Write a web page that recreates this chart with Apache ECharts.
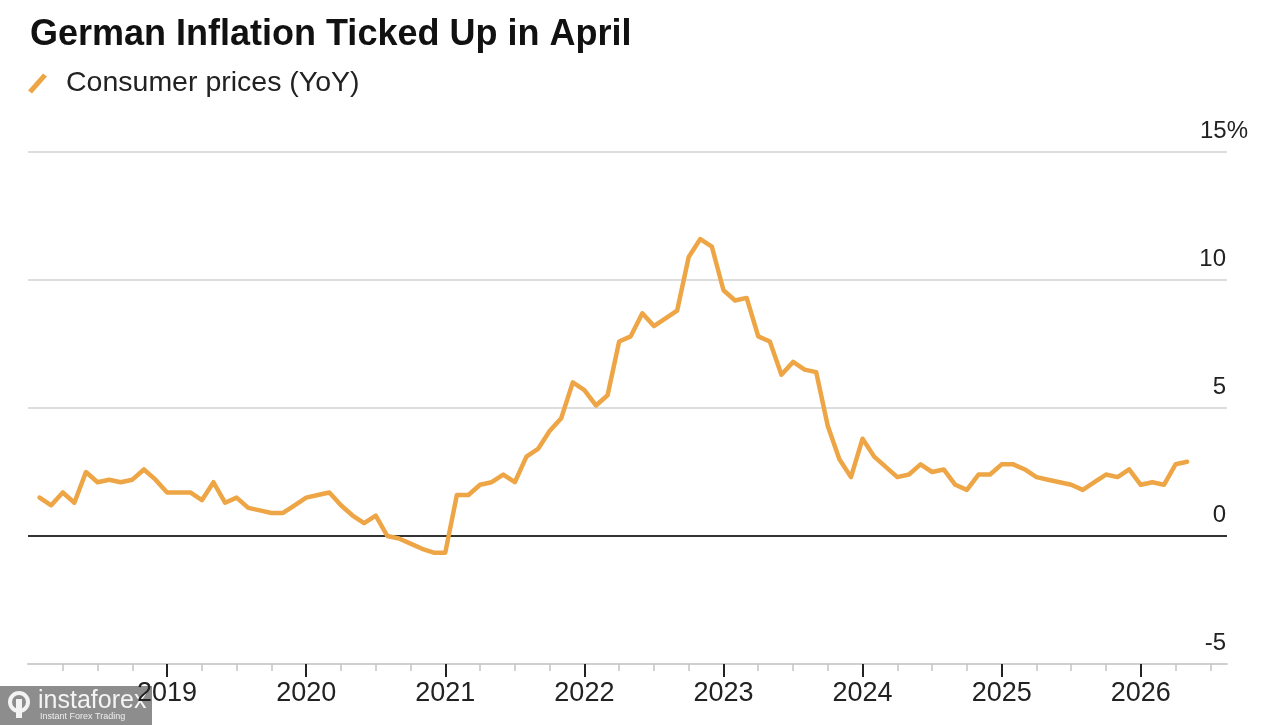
<!DOCTYPE html>
<html>
<head>
<meta charset="utf-8">
<script src="https://cdn.jsdelivr.net/npm/echarts@6/dist/echarts.min.js"></script>
<style>
html,body{margin:0;padding:0;background:#fff;}
#chart{width:1280px;height:725px;}
</style>
</head>
<body>
<div id="chart"></div>
<script>
// ---- Data (Germany consumer prices, YoY %, monthly Jan 2018 – Apr 2026) ----
const startYear = 2018;
const yoy2018 = [1.5, 1.2, 1.7, 1.3, 2.5, 2.1, 2.2, 2.1, 2.2, 2.6, 2.2, 1.7];
const yoy2019 = [1.7, 1.7, 1.4, 2.1, 1.3, 1.5, 1.1, 1.0, 0.9, 0.9, 1.2, 1.5];
const yoy2020 = [1.6, 1.7, 1.2, 0.8, 0.5, 0.8, 0.0, -0.1, -0.3, -0.5, -0.65, -0.65];
const yoy2021 = [1.6, 1.6, 2.0, 2.1, 2.4, 2.1, 3.1, 3.4, 4.1, 4.6, 6.0, 5.7];
const yoy2022 = [5.1, 5.5, 7.6, 7.8, 8.7, 8.2, 8.5, 8.8, 10.9, 11.6, 11.3, 9.6];
const yoy2023 = [9.2, 9.3, 7.8, 7.6, 6.3, 6.8, 6.5, 6.4, 4.3, 3.0, 2.3, 3.8];
const yoy2024 = [3.1, 2.7, 2.3, 2.4, 2.8, 2.5, 2.6, 2.0, 1.8, 2.4, 2.4, 2.8];
const yoy2025 = [2.8, 2.6, 2.3, 2.2, 2.1, 2.0, 1.8, 2.1, 2.4, 2.3, 2.6, 2.0];
const yoy2026 = [2.1, 2.0, 2.8, 2.9];
const yearTicks = [2019, 2020, 2021, 2022, 2023, 2024, 2025, 2026];
const yTicks = [-5, 0, 5, 10, 15];

const allValues = [].concat(yoy2018, yoy2019, yoy2020, yoy2021, yoy2022, yoy2023, yoy2024, yoy2025, yoy2026);
// each monthly value is placed at the end of its month on a decimal-year axis
const seriesData = allValues.map((v, i) => [startYear + (i + 1) / 12, v]);
const quarterTicks = [];
for (let y = 2018; y <= 2026; y++) {
  [0.25, 0.5, 0.75].forEach(q => { if (y + q < 2026.6) quarterTicks.push(y + q); });
}

const FONT = '"Liberation Sans", Arial, Helvetica, sans-serif';
const chart = echarts.init(document.getElementById('chart'));
chart.setOption({
  animation: false,
  backgroundColor: '#ffffff',
  title: {
    text: 'German Inflation Ticked Up in April',
    left: 25, top: 12,
    textStyle: { fontFamily: FONT, fontSize: 36, fontWeight: 'bold', color: '#111' }
  },
  legend: {
    left: 23, top: 64,
    itemWidth: 19, itemHeight: 20,
    icon: 'path://M0,17 L15,0 L19,3 L4,20 Z',
    data: [{ name: 'Consumer prices (YoY)', itemStyle: { color: '#EDA545' } }],
    textStyle: { fontFamily: FONT, fontSize: 28.5, color: '#222', padding: [0, 0, 0, 14] }
  },
  grid: { left: 28, right: 53, top: 152, bottom: 61 },
  xAxis: [
    {
      type: 'value', min: 2018, max: 2026.62,
      axisLine: { show: true, onZero: false, lineStyle: { color: '#cfcfcf', width: 2 } },
      axisTick: { show: true, customValues: yearTicks, length: 13, lineStyle: { color: '#222', width: 2 } },
      axisLabel: {
        customValues: yearTicks, margin: 16,
        fontFamily: FONT, fontSize: 27, color: '#222',
        formatter: v => String(Math.round(v))
      },
      splitLine: { show: false }
    },
    {
      type: 'value', min: 2018, max: 2026.62, position: 'bottom',
      axisLine: { show: false, onZero: false },
      axisTick: { show: true, customValues: quarterTicks, length: 7, lineStyle: { color: '#c4c4c4', width: 1.5 } },
      axisLabel: { show: false },
      splitLine: { show: false }
    }
  ],
  yAxis: {
    type: 'value', position: 'right', min: -5, max: 15, interval: 5,
    axisLine: { show: false }, axisTick: { show: false },
    splitLine: { lineStyle: { color: '#d2d2d2', width: 1.5 } },
    axisLabel: {
      align: 'right', verticalAlign: 'bottom', margin: 21,
      fontFamily: FONT, fontSize: 24, color: '#222',
      formatter: v => v === 15 ? '{p|15%}' : '{n|' + v + '}',
      rich: {
        p: { fontFamily: FONT, fontSize: 24, color: '#222', padding: [0, 0, 9, 0] },
        n: { fontFamily: FONT, fontSize: 24, color: '#222', padding: [0, 22, 9, 0] }
      }
    }
  },
  series: [
    {
      name: 'Consumer prices (YoY)',
      type: 'line',
      xAxisIndex: 0,
      data: seriesData,
      showSymbol: false,
      lineStyle: { color: '#EDA545', width: 4.5, join: 'round', cap: 'round' },
      itemStyle: { color: '#EDA545' },
      z: 3,
      markLine: {
        silent: true, symbol: 'none', z: 2,
        label: { show: false },
        lineStyle: { color: '#333', width: 2, type: 'solid' },
        data: [{ yAxis: 0 }]
      }
    }
  ],
  graphic: [
    {
      type: 'group', left: 0, top: 686, z: 100,
      children: [
        { type: 'rect', shape: { x: 0, y: 0, width: 152, height: 39 }, style: { fill: '#8d8d8d' } },
        { type: 'circle', shape: { cx: 19, cy: 16, r: 9 }, style: { fill: 'none', stroke: '#f2f2f2', lineWidth: 4 } },
        { type: 'rect', shape: { x: 16, y: 13, width: 6, height: 19 }, style: { fill: '#f2f2f2' } },
        { type: 'text', style: { x: 38, y: 3, text: 'instaforex', fill: '#f4f4f4', font: '25px ' + FONT } },
        { type: 'text', style: { x: 40, y: 26, text: 'Instant Forex Trading', fill: '#eeeeee', font: '9px ' + FONT } }
      ]
    }
  ]
});
</script>
</body>
</html>
